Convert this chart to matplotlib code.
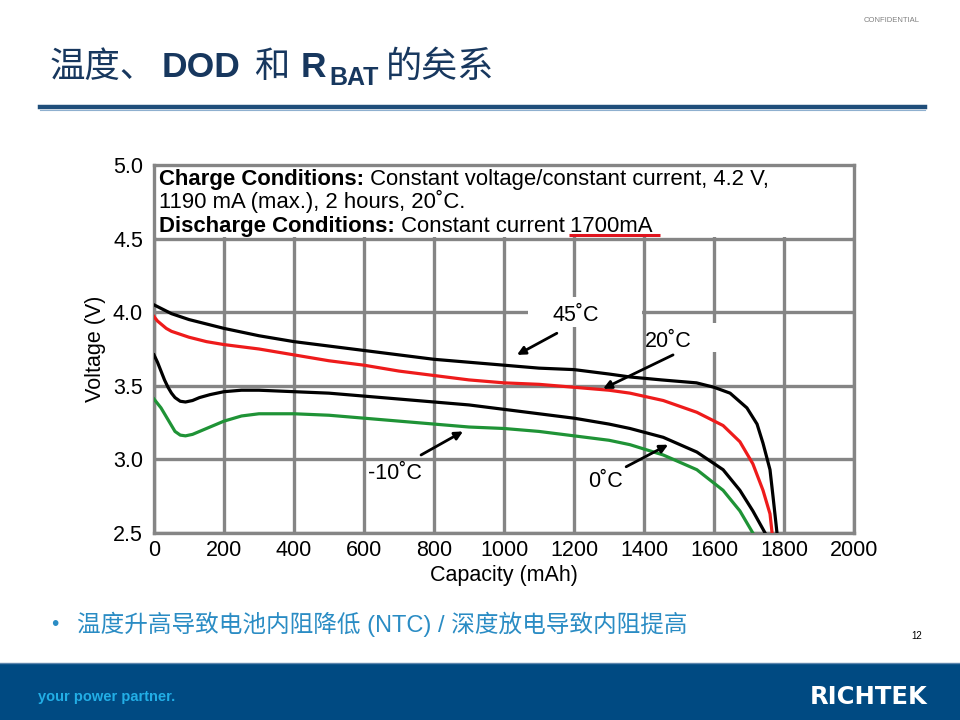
import matplotlib
matplotlib.use('Agg')
import matplotlib.pyplot as plt
from matplotlib.patches import Rectangle

plt.rcParams['font.family'] = ['Liberation Sans', 'Noto Sans CJK SC', 'DejaVu Sans']

# discharge curves (capacity mAh, voltage V)
cap_45 = [0, 50, 100, 200, 300, 400, 500, 600, 700, 800, 900, 1000, 1100, 1200, 1300,
          1360, 1450, 1550, 1600, 1646, 1694, 1723, 1740, 1760, 1769, 1780]
v_45 = [4.05, 3.99, 3.95, 3.89, 3.84, 3.80, 3.77, 3.74, 3.71, 3.68, 3.66, 3.64, 3.62, 3.61, 3.58,
        3.56, 3.54, 3.52, 3.49, 3.45, 3.35, 3.24, 3.11, 2.93, 2.74, 2.50]

cap_20 = [0, 10, 20, 35, 50, 75, 100, 150, 200, 300, 400, 500, 600, 700, 800, 900, 1000, 1100,
          1200, 1300, 1360, 1455, 1551, 1626, 1674, 1711, 1740, 1760, 1766]
v_20 = [3.97, 3.94, 3.92, 3.89, 3.87, 3.85, 3.83, 3.80, 3.78, 3.75, 3.71, 3.67, 3.64, 3.60, 3.57,
        3.54, 3.52, 3.51, 3.49, 3.47, 3.45, 3.40, 3.32, 3.23, 3.12, 2.97, 2.79, 2.63, 2.50]

cap_0 = [0, 10, 20, 30, 40, 50, 60, 75, 90, 110, 130, 160, 200, 250, 300, 400, 500, 600, 700,
         800, 900, 1000, 1100, 1200, 1300, 1360, 1455, 1551, 1626, 1674, 1711, 1746]
v_0 = [3.71, 3.66, 3.60, 3.54, 3.49, 3.45, 3.42, 3.395, 3.39, 3.40, 3.42, 3.44, 3.46, 3.47, 3.47,
       3.46, 3.45, 3.43, 3.41, 3.39, 3.37, 3.34, 3.31, 3.28, 3.24, 3.21, 3.15, 3.05, 2.93, 2.79,
       2.65, 2.50]

cap_m10 = [0, 10, 20, 30, 40, 50, 60, 75, 90, 110, 130, 160, 200, 250, 300, 400, 500, 600, 700,
           800, 900, 1000, 1100, 1200, 1300, 1360, 1455, 1551, 1626, 1674, 1711]
v_m10 = [3.41, 3.38, 3.35, 3.31, 3.27, 3.23, 3.19, 3.165, 3.16, 3.17, 3.19, 3.22, 3.26, 3.295,
         3.31, 3.31, 3.30, 3.28, 3.26, 3.24, 3.22, 3.21, 3.19, 3.16, 3.13, 3.10, 3.03, 2.93, 2.79,
         2.65, 2.50]

x_ticks = list(range(0, 2001, 200))
y_ticks = [2.5, 3.0, 3.5, 4.0, 4.5, 5.0]

GRID = '#858585'
NAVY = '#17375e'
FS = 15.5

fig = plt.figure(figsize=(9.6, 7.2), dpi=100)
rend = fig.canvas.get_renderer()

# ---- slide decoration ----
fig.text(0.958, 0.971, 'CONFIDENTIAL', fontsize=5.5, color='#808080', ha='right', va='center')

title_y = 1 - 77 / 720
cjk = ['Noto Sans CJK SC', 'DejaVu Sans']
fig.text(50 / 960, title_y, '温度、', fontsize=25.5, color=NAVY, family=cjk, va='baseline')
fig.text(162 / 960, title_y, 'DOD', fontsize=25.5, color=NAVY, weight='bold', va='baseline')
fig.text(254 / 960, title_y, '和', fontsize=25.5, color=NAVY, family=cjk, va='baseline')
fig.text(301 / 960, title_y, 'R', fontsize=25.5, color=NAVY, weight='bold', va='baseline')
fig.text(329 / 960, title_y - 8 / 720, 'BAT', fontsize=18, color=NAVY, weight='bold', va='baseline')
fig.text(386 / 960, title_y, '的矣系', fontsize=26, color=NAVY, family=cjk, va='baseline')

fig.add_artist(plt.Line2D([40 / 960, 925 / 960], [1 - 107 / 720] * 2, color='#1f4e7a', lw=3.2))
fig.add_artist(plt.Line2D([40 / 960, 925 / 960], [1 - 109.5 / 720] * 2, color='#8fb0cf', lw=0.8))

fig.text(51 / 960, 1 - 625 / 720, '•', fontsize=15, color='#2a8cc4', va='center')
fig.text(77 / 960, 1 - 624 / 720, '温度升高导致电池内阻降低 (NTC) / 深度放电导致内阻提高',
         fontsize=17, color='#2a8cc4', va='center')
fig.text(917 / 960, 1 - 636 / 720, '12', fontsize=7, color='black', ha='center', va='center')

fig.add_artist(Rectangle((0, 0), 1, 57 / 720, transform=fig.transFigure, color='#004a82', lw=0))
fig.add_artist(plt.Line2D([0, 1], [57 / 720] * 2, color='#5d86ad', lw=1))
fig.text(38 / 960, 1 - 697 / 720, 'your power partner.', fontsize=10.5, color='#22aee6',
         weight='bold', va='center', family=['Liberation Sans Narrow', 'Liberation Sans'])
fig.text(928 / 960, 1 - 697 / 720, 'RICHTEK', fontsize=17.5, color='white', weight='bold',
         ha='right', va='center', family=['DejaVu Sans'])

# ---- chart ----
ax = fig.add_axes([154 / 960, 1 - 533 / 720, 700 / 960, 368 / 720])
ax.set_xlim(0, 2000)
ax.set_ylim(2.5, 5.0)
ax.set_xticks(x_ticks)
ax.set_yticks(y_ticks)
ax.set_yticklabels([f'{v:.1f}' for v in y_ticks])
ax.tick_params(length=0, labelsize=FS, pad=5)
ax.tick_params(axis='y', pad=8)
ax.set_axisbelow(True)
ax.grid(True, color=GRID, lw=2.4)
for s in ax.spines.values():
    s.set_color(GRID)
    s.set_linewidth(2.4)

ax.set_xlabel('Capacity (mAh)', fontsize=FS, labelpad=3)
ax.set_ylabel('Voltage (V)', fontsize=FS, labelpad=5)

# white patches: test-condition box above 4.5 V and label boxes
ax.add_patch(Rectangle((0, 4.509), 2000, 0.491, facecolor='white', edgecolor='none', zorder=1))
ax.add_patch(Rectangle((1069, 3.898), 325, 0.204, facecolor='white', edgecolor='none', zorder=1))
ax.add_patch(Rectangle((1414, 3.728), 303, 0.197, facecolor='white', edgecolor='none', zorder=1))

ax.plot(cap_m10, v_m10, color='#1f9336', lw=2.3, zorder=3, solid_joinstyle='round')
ax.plot(cap_0, v_0, color='black', lw=2.3, zorder=3, solid_joinstyle='round')
ax.plot(cap_20, v_20, color='#ee1b1b', lw=2.3, zorder=3, solid_joinstyle='round')
ax.plot(cap_45, v_45, color='black', lw=2.3, zorder=3, solid_joinstyle='round')

inv = ax.transData.inverted()


def run_text(x, y, pieces):
    """place (text, weight) pieces one after another on one baseline"""
    arts = []
    for s, w in pieces:
        t = ax.text(x, y, s, fontsize=15.9, weight=w, va='baseline', zorder=4)
        x = inv.transform(t.get_window_extent(rend).get_points())[1, 0]
        arts.append(t)
    return arts


run_text(14, 4.862, [('Charge Conditions:', 'bold'),
                     (' Constant voltage/constant current, 4.2 V,', 'normal')])
run_text(14, 4.705, [('1190 mA (max.), 2 hours, 20˚C.', 'normal')])
line3 = run_text(14, 4.545, [('Discharge Conditions:', 'bold'), (' Constant current', 'normal'),
                             (' 1700mA', 'normal')])
ul = inv.transform(line3[-1].get_window_extent(rend).get_points())
ax.plot([ul[0, 0] + 13, ul[1, 0] + 20], [4.527, 4.527], color='#e0141e', lw=2.2, zorder=4,
        solid_capstyle='butt')

arrow = dict(arrowstyle='-|>', color='black', lw=2, mutation_scale=12, shrinkA=0, shrinkB=0)
ax.annotate('', xy=(1037, 3.71), xytext=(1151, 3.857), arrowprops=arrow, zorder=5)
ax.text(1205, 3.975, '45˚C', fontsize=FS, ha='center', va='center', zorder=4)
ax.annotate('', xy=(1283, 3.48), xytext=(1483, 3.71), arrowprops=arrow, zorder=5)
ax.text(1469, 3.80, '20˚C', fontsize=FS, ha='center', va='center', zorder=4)
ax.annotate('', xy=(883, 3.19), xytext=(763, 3.03), arrowprops=arrow, zorder=5)
ax.text(689, 2.905, '-10˚C', fontsize=FS, ha='center', va='center', zorder=4)
ax.annotate('', xy=(1469, 3.10), xytext=(1349, 2.95), arrowprops=arrow, zorder=5)
ax.text(1291, 2.85, '0˚C', fontsize=FS, ha='center', va='center', zorder=4)

fig.savefig('out.png', dpi=100)
